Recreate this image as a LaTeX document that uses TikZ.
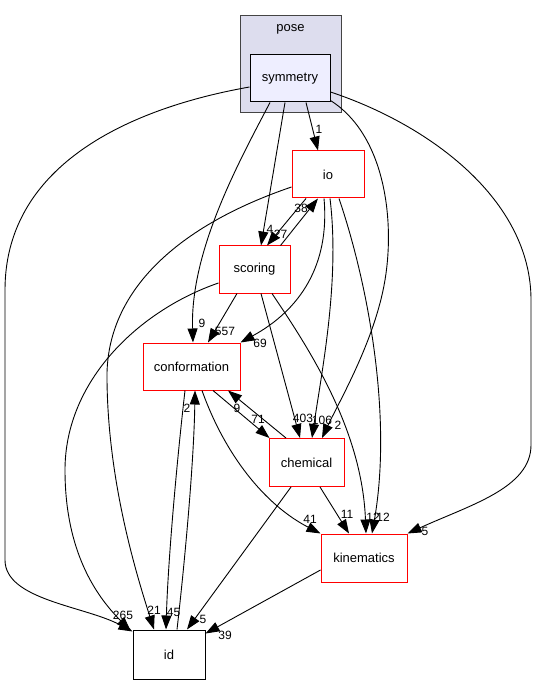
\documentclass[tikz,border=0pt]{standalone}
\usepackage{fontspec}
\setmainfont{Liberation Sans}
\usetikzlibrary{arrows.meta,calc}
\definecolor{clusterfill}{RGB}{221,221,238}
\definecolor{clusterdraw}{RGB}{68,68,68}
\definecolor{symfill}{RGB}{238,238,255}
\begin{document}
\begin{tikzpicture}[x=1pt,y=-1pt,
  box/.style={draw=red, line width=1pt, fill=white, inner sep=0pt, font=\fontsize{13}{15}\selectfont},
  symbox/.style={draw=black, line width=1pt, fill=symfill, inner sep=0pt, font=\fontsize{13}{15}\selectfont},
  plainbox/.style={draw=black, line width=1pt, fill=white, inner sep=0pt, font=\fontsize{13}{15}\selectfont},
  cluster/.style={draw=clusterdraw, line width=1pt, fill=clusterfill, inner sep=0pt},
  lbl/.style={inner sep=0pt, font=\fontsize{12}{14}\selectfont},
  dep/.style={draw=black, line width=0.9pt, -{Triangle[length=14pt,width=10pt]}},
]
\useasboundingbox (0,0) rectangle (536,684);
% cluster
\node[cluster, minimum width=101pt, minimum height=97pt] (pose) at (290.5,64.5) {};
\node[inner sep=0pt, font=\fontsize{13}{15}\selectfont] (poselbl) at (290.5,29) {pose};
% nodes
\node[symbox, minimum width=80pt, minimum height=47pt] (sym) at (290,78.5) {symmetry};
\node[box, minimum width=72pt, minimum height=47pt] (io) at (328,174.5) {io};
\node[box, minimum width=71pt, minimum height=47pt] (scoring) at (254.5,269.5) {scoring};
\node[box, minimum width=97pt, minimum height=47pt] (conf) at (191.5,366.5) {conformation};
\node[box, minimum width=75pt, minimum height=48pt] (chem) at (306.5,462.5) {chemical};
\node[box, minimum width=86pt, minimum height=48pt] (kin) at (364,558) {kinematics};
\node[plainbox, minimum width=72pt, minimum height=49pt] (id) at (169,654.5) {id};

% edges from symmetry
\draw[dep] ($(sym.south)+(16,0)$) -- ($(io.north)+(-10,0)$);
\draw[dep] ($(sym.south)+(-5,0)$) -- ($(scoring.north)+(6.5,0)$);
\draw[dep] ($(sym.south)+(-20,0)$) .. controls (240,160) and (190,250) .. ($(conf.north)+(1.5,0)$);
\draw[dep] ($(sym.south east)+(0,-2)$) .. controls (385,135) and (395,220) .. (385,280)
   .. controls (375,340) and (340,400) .. ($(chem.north)+(15.5,0)$);
\draw[dep] ($(sym.east)+(0,13.5)$) .. controls (430,125) and (531,200) .. (531,300)
   -- (531,445) .. controls (531,488) and (470,505) .. (kin.north east);
\draw[dep] ($(sym.west)+(0,8.5)$) .. controls (120,110) and (5,170) .. (5,290)
   -- (5,560) .. controls (5,600) and (85,606) .. ($(id.north west)+(0,2)$);

% io / scoring
\draw[dep] ($(io.south)+(-22,0)$) -- ($(scoring.north)+(12.5,0)$);
\draw[dep] ($(scoring.north)+(26,0)$) -- ($(io.south)+(-10,0)$);
\draw[dep] ($(io.west)+(0,12.5)$) .. controls (180,225) and (105,290) .. (107,380)
   .. controls (108,480) and (135,570) .. ($(id.north)+(-15,0)$);
\draw[dep] ($(io.south)+(-4,0)$) .. controls (330,265) and (300,310) .. (conf.north east);
\draw[dep] ($(io.south)+(2,0)$) .. controls (340,280) and (322,370) .. ($(chem.north)+(5.5,0)$);
\draw[dep] ($(io.south)+(11,0)$) .. controls (370,290) and (392,420) .. ($(kin.north)+(8,0)$);

% scoring
\draw[dep] ($(scoring.west)+(0,13.5)$) .. controls (140,310) and (65,380) .. (65,470)
   .. controls (65,550) and (95,595) .. ($(id.north west)+(-2,1)$);
\draw[dep] ($(scoring.south)+(-17.5,0)$) -- ($(conf.north)+(16.5,0)$);
\draw[dep] ($(scoring.south)+(6.5,0)$) -- ($(chem.north)+(-6.5,0)$);
\draw[dep] ($(scoring.south)+(17.5,0)$) .. controls (310,350) and (362,430) .. ($(kin.north)+(2,0)$);

% conformation
\draw[dep] ($(conf.south)+(21.5,0)$) -- ($(chem.north west)+(1,0)$);
\draw[dep] ($(chem.north)+(-20.5,0)$) -- ($(conf.south)+(36.5,0)$);
\draw[dep] ($(conf.south)+(10.5,0)$) .. controls (225,455) and (265,505) .. (kin.north west);
\draw[dep] ($(conf.south)+(-6.5,0)$) .. controls (177,460) and (168,560) .. ($(id.north)+(-3,0)$);
\draw[dep] ($(id.north)+(8,0)$) .. controls (185,560) and (194,460) .. ($(conf.south)+(3.5,0)$);

% chemical / kinematics
\draw[dep] ($(chem.south)+(-15.5,0)$) -- ($(id.north)+(18,0)$);
\draw[dep] ($(chem.south)+(13.5,0)$) -- ($(kin.north)+(-15,0)$);
\draw[dep] ($(kin.west)+(0,12)$) -- ($(id.north east)+(0,4)$);

% labels
\node[lbl] (l1) at (319,129) {1};
\node[lbl] (l2) at (270,229) {4};
\node[lbl] (l3) at (280.5,234) {27};
\node[lbl] (l4) at (301,208) {38};
\node[lbl] (l5) at (202,323) {9};
\node[lbl] (l6) at (225,331) {557};
\node[lbl] (l7) at (260,343) {69};
\node[lbl] (l8) at (187,408) {2};
\node[lbl] (l9) at (237,408) {9};
\node[lbl] (l10) at (258,419) {71};
\node[lbl] (l11) at (303,418) {403};
\node[lbl] (l12) at (322,420) {106};
\node[lbl] (l13) at (338,425) {2};
\node[lbl] (l14) at (310,519) {41};
\node[lbl] (l15) at (347,514) {11};
\node[lbl] (l16) at (373,517) {12};
\node[lbl] (l17) at (383,517) {12};
\node[lbl] (l18) at (425,531) {5};
\node[lbl] (l19) at (123,615) {265};
\node[lbl] (l20) at (154,610) {21};
\node[lbl] (l21) at (173.5,612) {45};
\node[lbl] (l22) at (203,619) {5};
\node[lbl] (l23) at (225,635) {39};
\end{tikzpicture}
\end{document}
